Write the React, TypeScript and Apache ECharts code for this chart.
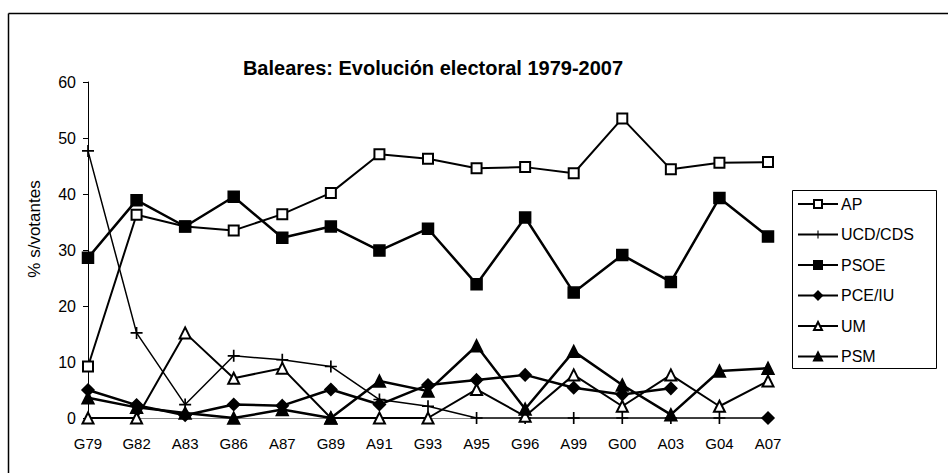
import React, { useEffect, useRef } from "react";
import * as echarts from "echarts";

const categories = ["G79", "G82", "A83", "G86", "A87", "G89", "A91", "G93", "A95", "G96", "A99", "G00", "A03", "G04", "A07"];
const ap = [9.2, 36.3, 34.2, 33.5, 36.4, 40.2, 47.1, 46.3, 44.6, 44.8, 43.7, 53.5, 44.4, 45.6, 45.7];
const ucd = [47.7, 15.2, 2.4, 11.1, 10.4, 9.2, 3.3, 2.1, 0, 0, 0, 0, 0, 0, 0];
const psoe = [28.6, 38.9, 34.2, 39.5, 32.2, 34.2, 29.9, 33.8, 23.9, 35.8, 22.4, 29.1, 24.3, 39.3, 32.4];
const pceiu = [5.0, 2.3, 0.5, 2.4, 2.2, 5.1, 2.4, 5.9, 6.8, 7.7, 5.4, 4.2, 5.3, null, 0];
const um = [0, 0, 15.2, 7.1, 8.9, 0, 0, 0, 5.1, 0.3, 7.7, 2.1, 7.7, 2.1, 6.6];
const psm = [3.6, 1.9, 0.9, 0, 1.5, 0, 6.6, 4.8, 12.9, 1.6, 11.9, 5.9, 0.6, 8.4, 8.9];
const yTicks = { min: 0, max: 60, interval: 10 };

const crossPath = "path://M4.3,0h1.4v4.3h4.3v1.4h-4.3v4.3h-1.4v-4.3h-4.3v-1.4h4.3z";

export default function App() {
  const ref = useRef<HTMLDivElement>(null);
  useEffect(() => {
    if (!ref.current) return;
    const chart = echarts.init(ref.current, null, { renderer: "svg" });
    const font = "Liberation Sans, Arial, sans-serif";
    const mk = (name: string, data: (number | null)[], symbol: string, size: number, lw: number) => ({
      name,
      type: "line",
      data,
      symbol,
      symbolSize: size,
      showAllSymbol: true,
      connectNulls: false,
      lineStyle: { color: "#000", width: lw },
      itemStyle: { color: "#000", borderColor: "#000", borderWidth: 1.5 },
      emphasis: { disabled: true },
    });
    chart.setOption({
      animation: false,
      backgroundColor: "#fff",
      textStyle: { fontFamily: font, color: "#000" },
      title: {
        text: "Baleares: Evolución electoral 1979-2007",
        left: 428,
        textAlign: "center",
        top: 53,
        textStyle: { fontFamily: font, fontSize: 20, fontWeight: "bold", color: "#000" },
      },
      grid: { left: 88, right: 180, top: 82, bottom: 55 },
      legend: {
        orient: "vertical",
        left: 797,
        top: 196,
        itemWidth: 40,
        itemHeight: 10,
        itemGap: 14.5,
        padding: 0,
        textStyle: { fontFamily: font, fontSize: 16, color: "#000", padding: [0, 0, 0, -2] },
        data: ["AP", "UCD/CDS", "PSOE", "PCE/IU", "UM", "PSM"],
      },
      xAxis: {
        type: "category",
        data: categories,
        boundaryGap: false,
        axisLine: { lineStyle: { color: "#888", width: 1 } },
        axisTick: { show: false },
        axisLabel: { fontFamily: font, fontSize: 15, color: "#000", margin: 18, interval: 0 },
        splitLine: { show: false },
      },
      yAxis: {
        type: "value",
        min: yTicks.min,
        max: yTicks.max,
        interval: yTicks.interval,
        axisLine: { show: true, lineStyle: { color: "#000", width: 1 } },
        axisTick: { show: true, length: 5, lineStyle: { color: "#000" } },
        axisLabel: { fontFamily: font, fontSize: 16, color: "#000", margin: 12 },
        splitLine: { show: false },
      },
      graphic: [
        { type: "line", shape: { x1: 8.5, y1: 13.5, x2: 948, y2: 13.5 }, style: { stroke: "#000", lineWidth: 1.5 } },
        { type: "line", shape: { x1: 8.5, y1: 13.5, x2: 8.5, y2: 473 }, style: { stroke: "#000", lineWidth: 1.5 } },
        { type: "rect", shape: { x: 792.5, y: 190.5, width: 144, height: 178 }, style: { fill: "none", stroke: "#000", lineWidth: 1 }, z: 10 },
        {
          type: "text",
          x: 34,
          y: 229,
          rotation: Math.PI / 2,
          style: { text: "% s/votantes", font: "17px " + font, fill: "#000", align: "center", verticalAlign: "middle" },
        },
      ],
      series: [
        mk("AP", ap, "emptyRect", 10, 2),
        { ...mk("UCD/CDS", ucd, crossPath, 12, 1.5), itemStyle: { color: "#000", borderWidth: 0 } },
        mk("PSOE", psoe, "rect", 11, 2.5),
        mk("PCE/IU", pceiu, "diamond", 12, 2.5),
        mk("UM", um, "emptyTriangle", 11, 2),
        mk("PSM", psm, "triangle", 12, 2.5),
      ],
    });
    return () => chart.dispose();
  }, []);
  return <div ref={ref} style={{ position: "fixed", left: 0, top: 0, width: 948, height: 473, background: "#fff" }} />;
}
